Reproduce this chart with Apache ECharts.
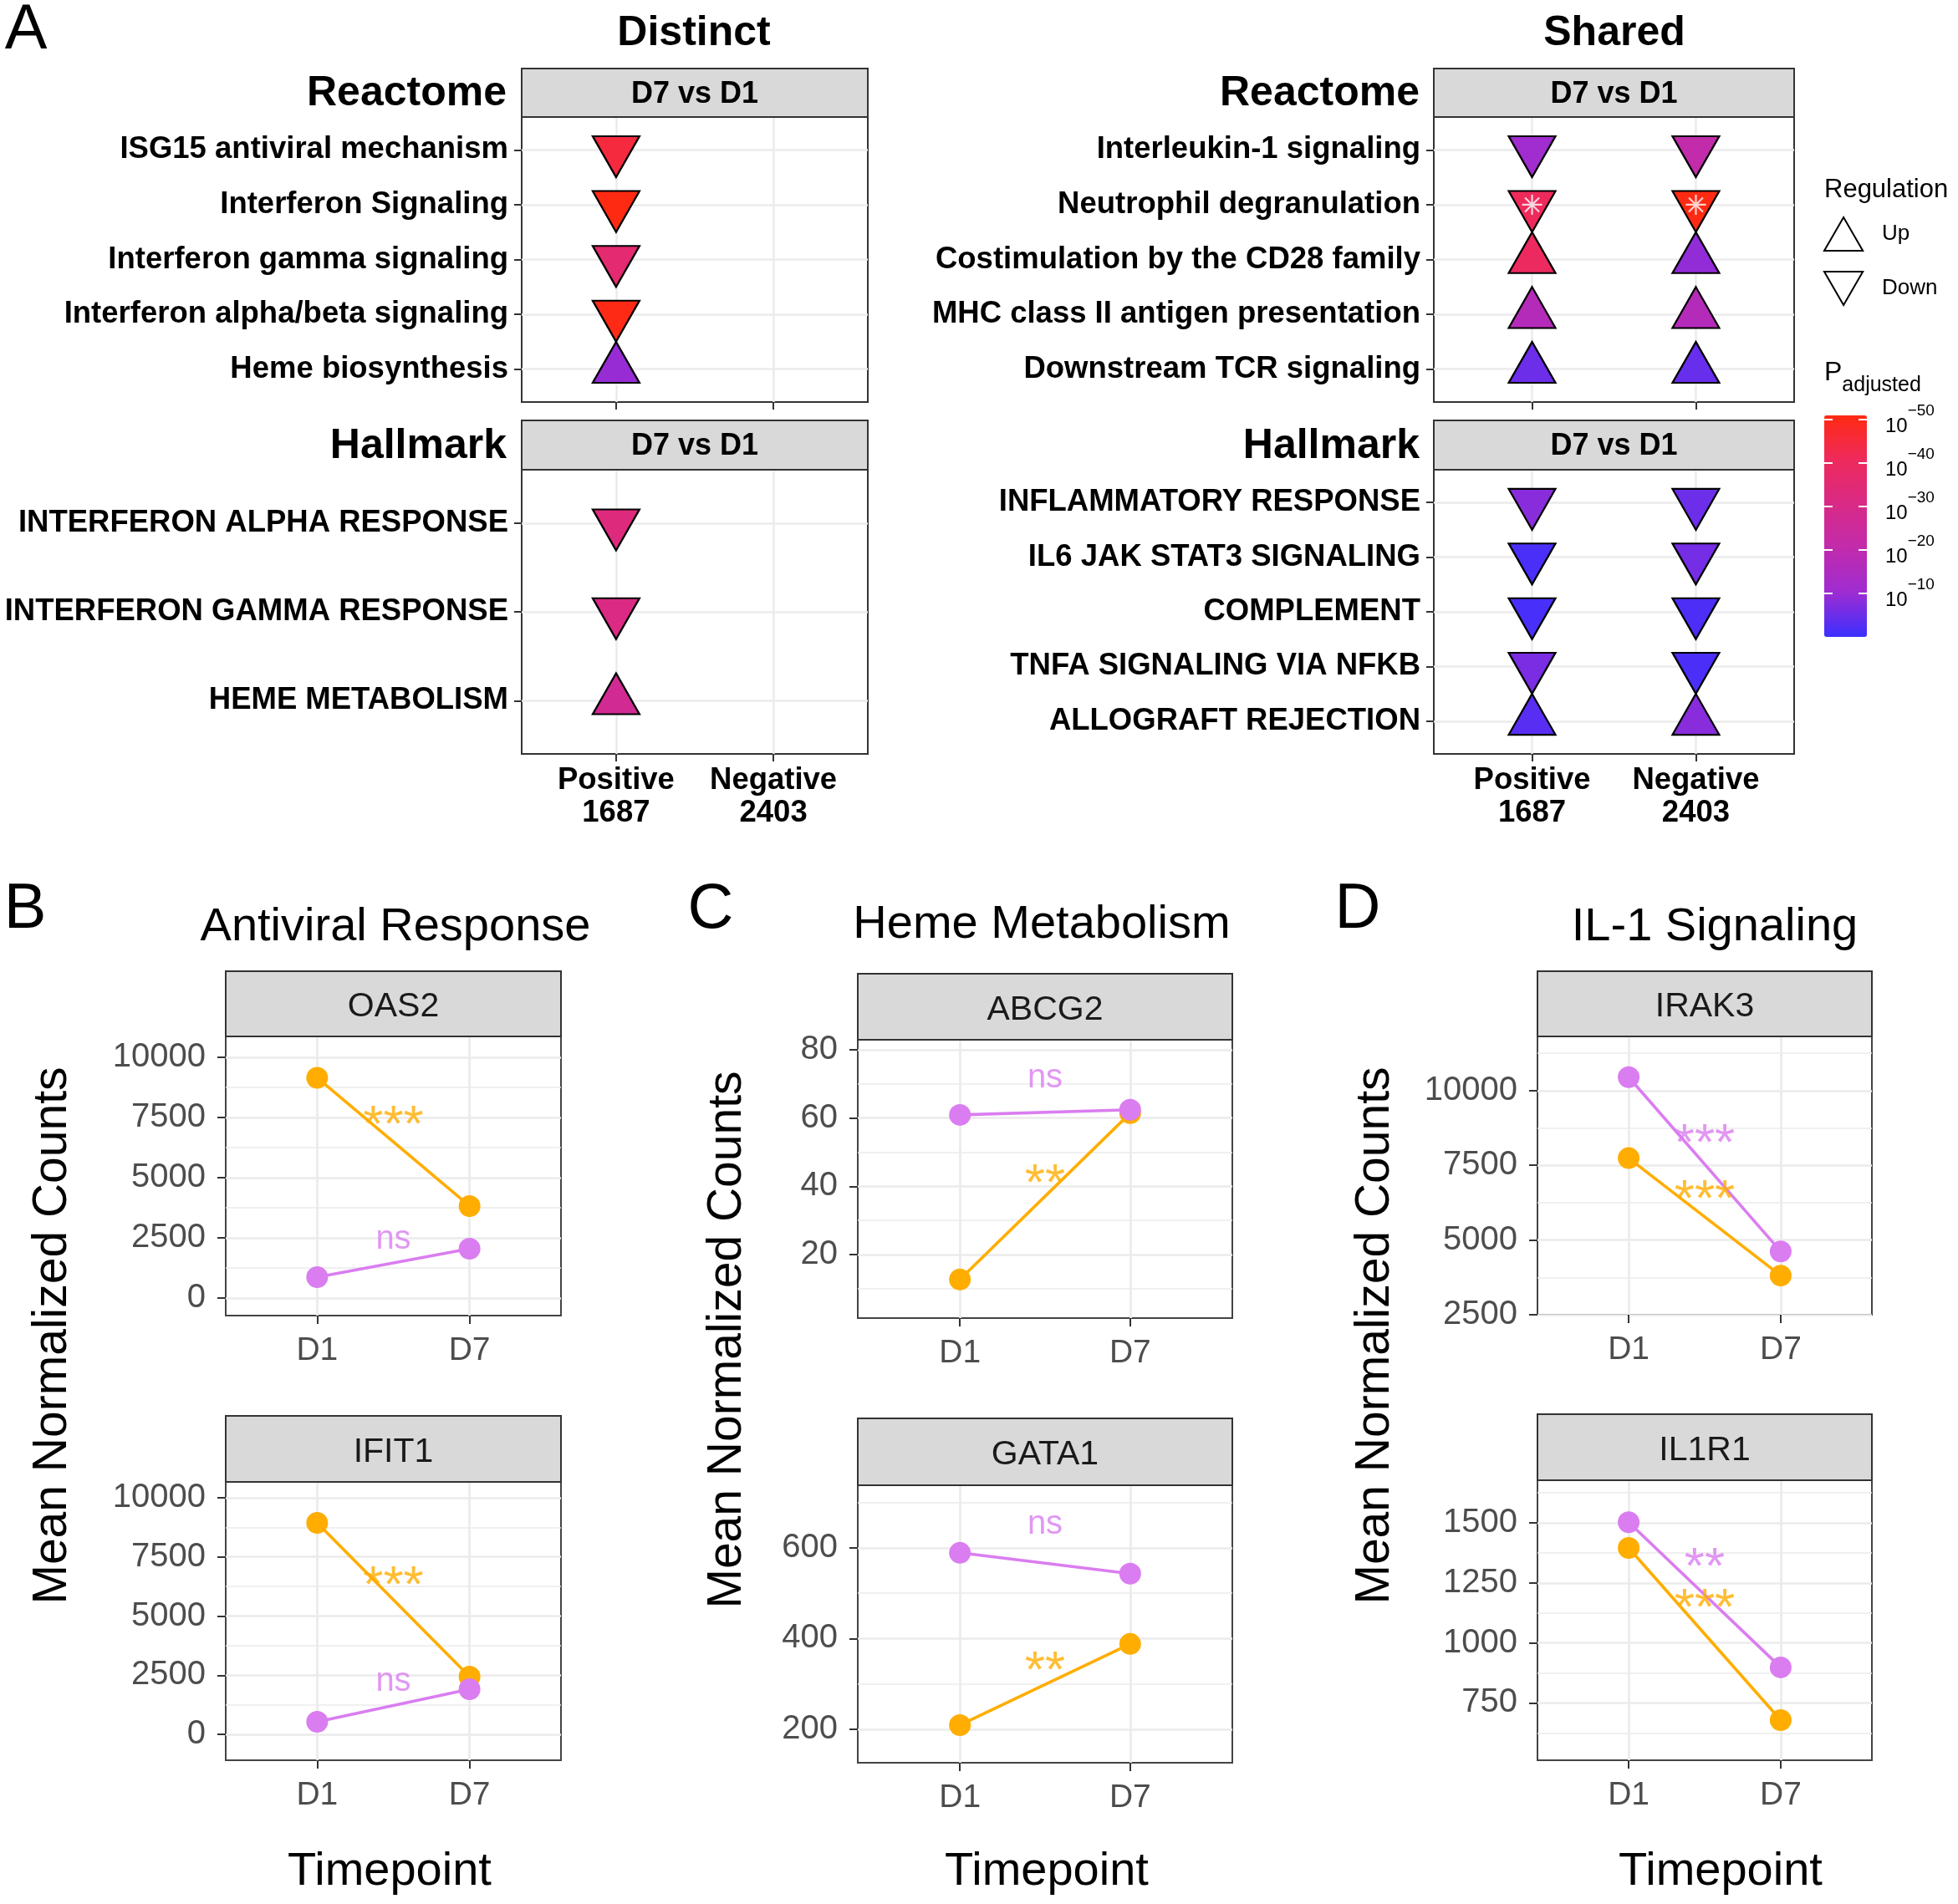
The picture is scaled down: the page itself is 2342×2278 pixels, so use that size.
<!DOCTYPE html>
<html><head><meta charset="utf-8">
<script src="https://cdn.jsdelivr.net/npm/echarts@6/dist/echarts.min.js"></script>
<style>html,body{margin:0;padding:0;background:#fff}#c{width:2342px;height:2278px}</style>
</head><body><div id="c"></div>
<script>
// ================= DATA =================
// Panel A: enrichment (regulation + -log10 adjusted P)
const contrasts = ['Positive\n1687', 'Negative\n2403'];
const reactomeDistinctPathways = ['ISG15 antiviral mechanism', 'Interferon Signaling', 'Interferon gamma signaling', 'Interferon alpha/beta signaling', 'Heme biosynthesis'];
const hallmarkDistinctPathways = ['INTERFERON ALPHA RESPONSE', 'INTERFERON GAMMA RESPONSE', 'HEME METABOLISM'];
const reactomeSharedPathways = ['Interleukin-1 signaling', 'Neutrophil degranulation', 'Costimulation by the CD28 family', 'MHC class II antigen presentation', 'Downstream TCR signaling'];
const hallmarkSharedPathways = ['INFLAMMATORY RESPONSE', 'IL6 JAK STAT3 SIGNALING', 'COMPLEMENT', 'TNFA SIGNALING VIA NFKB', 'ALLOGRAFT REJECTION'];
// [pathway, contrast index, regulation, -log10(P adjusted)]
const reactomeDistinctHits = [
  ['ISG15 antiviral mechanism', 0, 'Down', 45],
  ['Interferon Signaling', 0, 'Down', 51],
  ['Interferon gamma signaling', 0, 'Down', 36],
  ['Interferon alpha/beta signaling', 0, 'Down', 50.5],
  ['Heme biosynthesis', 0, 'Up', 9.5]
];
const hallmarkDistinctHits = [
  ['INTERFERON ALPHA RESPONSE', 0, 'Down', 33],
  ['INTERFERON GAMMA RESPONSE', 0, 'Down', 31],
  ['HEME METABOLISM', 0, 'Up', 27]
];
const reactomeSharedHits = [
  ['Interleukin-1 signaling', 0, 'Down', 11], ['Interleukin-1 signaling', 1, 'Down', 21],
  ['Neutrophil degranulation', 0, 'Down', 41], ['Neutrophil degranulation', 1, 'Down', 51],
  ['Costimulation by the CD28 family', 0, 'Up', 40], ['Costimulation by the CD28 family', 1, 'Up', 9],
  ['MHC class II antigen presentation', 0, 'Up', 17], ['MHC class II antigen presentation', 1, 'Up', 17],
  ['Downstream TCR signaling', 0, 'Up', 5], ['Downstream TCR signaling', 1, 'Up', 4.5]
];
const reactomeSharedFlagged = [['Neutrophil degranulation', 0], ['Neutrophil degranulation', 1]];
const hallmarkSharedHits = [
  ['INFLAMMATORY RESPONSE', 0, 'Down', 8], ['INFLAMMATORY RESPONSE', 1, 'Down', 5],
  ['IL6 JAK STAT3 SIGNALING', 0, 'Down', 1.5], ['IL6 JAK STAT3 SIGNALING', 1, 'Down', 6],
  ['COMPLEMENT', 0, 'Down', 1.3], ['COMPLEMENT', 1, 'Down', 1.8],
  ['TNFA SIGNALING VIA NFKB', 0, 'Down', 6.5], ['TNFA SIGNALING VIA NFKB', 1, 'Down', 1.6],
  ['ALLOGRAFT REJECTION', 0, 'Up', 3], ['ALLOGRAFT REJECTION', 1, 'Up', 8]
];
const padjRange = [0, 51];
const padjTicks = [10, 20, 30, 40, 50];
const padjColors = ['#3B2FFF', '#9E2CD2', '#C12BAC', '#D92A86', '#EE2A5C', '#FF2A12'];

// Panels B-D: mean normalized counts
const timepoints = ['D1', 'D7'];
const oas2Orange = [9150, 3820], oas2Violet = [870, 2050];
const ifit1Orange = [8940, 2440], ifit1Violet = [530, 1910];
const abcg2Orange = [12.7, 61.4], abcg2Violet = [60.9, 62.4];
const gata1Orange = [209, 388], gata1Violet = [589, 543];
const irak3Orange = [7740, 3810], irak3Violet = [10450, 4620];
const il1r1Orange = [1396, 678], il1r1Violet = [1503, 898];
// significance notes: [text, group, y]
const oas2Notes = [['***', 'orange', 7604], ['ns', 'violet', 2326]];
const ifit1Notes = [['***', 'orange', 6714], ['ns', 'violet', 2120]];
const abcg2Notes = [['ns', 'violet', 70.9], ['**', 'orange', 43.8]];
const gata1Notes = [['ns', 'violet', 646], ['**', 'orange', 351]];
const irak3Notes = [['***', 'violet', 8578], ['***', 'orange', 6711]];
const il1r1Notes = [['**', 'violet', 1357], ['***', 'orange', 1187]];
// y scales
const oas2Range = [-729, 10868], oas2Ticks = [0, 2500, 5000, 7500, 10000], oas2Minor = [1250, 3750, 6250, 8750];
const ifit1Range = [-1095, 10671], ifit1Ticks = [0, 2500, 5000, 7500, 10000], ifit1Minor = [1250, 3750, 6250, 8750];
const abcg2Range = [1.4, 82.9], abcg2Ticks = [20, 40, 60, 80], abcg2Minor = [10, 30, 50, 70];
const gata1Range = [126, 738], gata1Ticks = [200, 400, 600], gata1Minor = [300, 500, 700];
const irak3Range = [2500, 11812], irak3Ticks = [2500, 5000, 7500, 10000], irak3Minor = [3750, 6250, 8750, 11250];
const il1r1Range = [511, 1678], il1r1Ticks = [750, 1000, 1250, 1500], il1r1Minor = [625, 875, 1125, 1375, 1625];

// ================= STYLE / LAYOUT =================
const FONT = "'Liberation Sans', Arial, Helvetica, sans-serif";
const COLORS = { orange: '#FFAD00', violet: '#DA7DF0' };
const gridsA = [
  { left: 624, top: 140, width: 414, height: 341 },
  { left: 624, top: 562, width: 414, height: 340 },
  { left: 1715, top: 140, width: 431, height: 341 },
  { left: 1715, top: 562, width: 431, height: 340 }
];
const gridsGene = [
  { left: 270, top: 1240, width: 401, height: 334, stripTop: 1162 },
  { left: 270, top: 1773, width: 401, height: 333, stripTop: 1694 },
  { left: 1026, top: 1244, width: 448, height: 333, stripTop: 1165 },
  { left: 1026, top: 1777, width: 448, height: 332, stripTop: 1697 },
  { left: 1839, top: 1240, width: 400, height: 333, stripTop: 1162 },
  { left: 1839, top: 1771, width: 400, height: 335, stripTop: 1692 }
];
const gridBar = { left: 2182, top: 497, width: 51, height: 265 };

const genePanels = [
  { gene: 'OAS2', orange: oas2Orange, violet: oas2Violet, range: oas2Range, major: oas2Ticks, minor: oas2Minor, notes: oas2Notes },
  { gene: 'IFIT1', orange: ifit1Orange, violet: ifit1Violet, range: ifit1Range, major: ifit1Ticks, minor: ifit1Minor, notes: ifit1Notes },
  { gene: 'ABCG2', orange: abcg2Orange, violet: abcg2Violet, range: abcg2Range, major: abcg2Ticks, minor: abcg2Minor, notes: abcg2Notes },
  { gene: 'GATA1', orange: gata1Orange, violet: gata1Violet, range: gata1Range, major: gata1Ticks, minor: gata1Minor, notes: gata1Notes },
  { gene: 'IRAK3', orange: irak3Orange, violet: irak3Violet, range: irak3Range, major: irak3Ticks, minor: irak3Minor, notes: irak3Notes },
  { gene: 'IL1R1', orange: il1r1Orange, violet: il1r1Violet, range: il1r1Range, major: il1r1Ticks, minor: il1r1Minor, notes: il1r1Notes }
];
const panelA = [
  { pathways: reactomeDistinctPathways, hits: reactomeDistinctHits, showX: false },
  { pathways: hallmarkDistinctPathways, hits: hallmarkDistinctHits, showX: true },
  { pathways: reactomeSharedPathways, hits: reactomeSharedHits, showX: false },
  { pathways: hallmarkSharedPathways, hits: hallmarkSharedHits, showX: true }
];

const TRI_W = 56, TRI_H = 49;
const option = {
  animation: false, backgroundColor: '#fff',
  grid: [], xAxis: [], yAxis: [], series: [],
  graphic: { elements: [] }
};
const G = option.graphic.elements;
const gridStyle = { show: true, borderColor: '#333', borderWidth: 2, backgroundColor: 'transparent', containLabel: false };
const noLine = { show: false, onZero: false };

// ---------- Panel A grids ----------
panelA.forEach((p, gi) => {
  option.grid.push(Object.assign({}, gridsA[gi], gridStyle));
  const idx = p.pathways.map((_, i) => i);
  option.xAxis.push({
    type: 'value', gridIndex: gi, min: -0.6, max: 1.6, position: 'bottom',
    axisLine: noLine,
    axisTick: { show: true, length: 9, lineStyle: { color: '#333', width: 2 }, customValues: [0, 1] },
    axisLabel: { show: p.showX, customValues: [0, 1], formatter: v => contrasts[Math.round(v)],
      color: '#000', fontWeight: 'bold', fontSize: 36.5, fontFamily: FONT, lineHeight: 39, margin: 12 },
    splitLine: { show: true, lineStyle: { color: '#EBEBEB', width: 2.5 } }
  });
  option.yAxis.push({
    type: 'value', gridIndex: gi, inverse: true, min: -0.6, max: p.pathways.length - 0.4, position: 'left',
    axisLine: noLine,
    axisTick: { show: true, length: 9, lineStyle: { color: '#333', width: 2 }, customValues: idx },
    axisLabel: { customValues: idx, formatter: v => p.pathways[Math.round(v)], padding: [9, 0, 0, 0],
      color: '#000', fontWeight: 'bold', fontSize: 36.5, fontFamily: FONT, margin: 16 },
    splitLine: { show: true, lineStyle: { color: '#EBEBEB', width: 2.5 } }
  });
  ['Up', 'Down'].forEach(reg => {
    option.series.push({
      type: 'scatter', name: reg, xAxisIndex: gi, yAxisIndex: gi,
      symbol: 'triangle', symbolSize: [TRI_W, TRI_H],
      symbolRotate: reg === 'Down' ? 180 : 0,
      symbolOffset: [0, reg === 'Down' ? TRI_H / 6 : -TRI_H / 6],
      itemStyle: { borderColor: '#000', borderWidth: 2.2, opacity: 1 },
      emphasis: { disabled: true }, z: 3,
      data: p.hits.filter(h => h[2] === reg).map(h => [h[1], p.pathways.indexOf(h[0]), h[3]])
    });
  });
});
// white asterisk marks on Shared Reactome
option.series.push({
  type: 'scatter', name: 'flag', xAxisIndex: 2, yAxisIndex: 2,
  symbol: 'path://M0,-10L0,10M-10,0L10,0M-7.07,-7.07L7.07,7.07M-7.07,7.07L7.07,-7.07',
  symbolSize: 24, itemStyle: { color: 'none', borderColor: '#fff', borderWidth: 2.2 },
  emphasis: { disabled: true }, z: 5,
  data: reactomeSharedFlagged.map(f => [f[1], reactomeSharedPathways.indexOf(f[0])])
});

// ---------- Gene panels ----------
const minorAxes = [];
genePanels.forEach((p, k) => {
  const gi = 4 + k;
  option.grid.push(Object.assign({ left: gridsGene[k].left, top: gridsGene[k].top, width: gridsGene[k].width, height: gridsGene[k].height }, gridStyle, { borderColor: '#444' }));
  option.xAxis.push({
    type: 'value', gridIndex: gi, min: -0.6, max: 1.6, position: 'bottom',
    axisLine: noLine,
    axisTick: { show: true, length: 10, lineStyle: { color: '#333', width: 2 }, customValues: [0, 1] },
    axisLabel: { customValues: [0, 1], formatter: v => timepoints[Math.round(v)],
      color: '#4D4D4D', fontSize: 39, fontFamily: FONT, lineHeight: 40, margin: 22 },
    splitLine: { show: true, lineStyle: { color: '#EBEBEB', width: 2.7 } }
  });
  option.yAxis.push({
    type: 'value', gridIndex: gi, min: p.range[0], max: p.range[1], position: 'left',
    axisLine: noLine,
    axisTick: { show: true, length: 10, lineStyle: { color: '#333', width: 2 }, customValues: p.major },
    axisLabel: { customValues: p.major, formatter: v => String(v), padding: [6, 0, 0, 0],
      color: '#4D4D4D', fontSize: 40, fontFamily: FONT, margin: 24 },
    splitLine: { show: true, lineStyle: { color: '#EBEBEB', width: 2.7 } }
  });
  minorAxes.push({
    type: 'value', gridIndex: gi, min: p.range[0], max: p.range[1], position: 'right',
    axisLine: noLine,
    axisTick: { show: false, customValues: p.minor },
    axisLabel: { show: false, customValues: p.minor },
    splitLine: { show: true, lineStyle: { color: '#EBEBEB', width: 1.6 } }
  });
  ['orange', 'violet'].forEach(grp => {
    option.series.push({
      type: 'line', name: p.gene + ' ' + grp, xAxisIndex: gi, yAxisIndex: gi,
      data: p[grp].map((v, i) => [i, v]),
      symbol: 'circle', symbolSize: 26, showSymbol: true,
      lineStyle: { color: COLORS[grp], width: 3.6 }, itemStyle: { color: COLORS[grp] },
      emphasis: { disabled: true }, z: 3
    });
  });
  option.series.push({
    type: 'scatter', name: p.gene + ' notes', xAxisIndex: gi, yAxisIndex: gi,
    symbolSize: 1, itemStyle: { color: 'rgba(0,0,0,0)' }, emphasis: { disabled: true }, z: 4,
    data: p.notes.map(n => ({
      value: [0.5, n[2]],
      label: { show: true, position: 'inside', formatter: n[0], color: COLORS[n[1]], fontFamily: FONT,
        fontSize: n[0] === 'ns' ? 40 : 62, offset: [0, n[0] === 'ns' ? -3 : 14] }
    }))
  });
});
minorAxes.forEach(a => option.yAxis.push(a));

// ---------- colour bar axes ----------
option.grid.push(Object.assign({}, gridBar, { show: false }));
option.xAxis.push({ type: 'value', gridIndex: 10, show: false, min: 0, max: 1 });
option.yAxis.push({
  type: 'value', gridIndex: 10, position: 'left', min: padjRange[0], max: padjRange[1], z: 10,
  axisLine: noLine, axisLabel: { show: false }, splitLine: { show: false },
  axisTick: { show: true, inside: true, length: 10, lineStyle: { color: '#fff', width: 2 }, customValues: padjTicks }
});
option.yAxis.push({
  type: 'value', gridIndex: 10, position: 'right', min: padjRange[0], max: padjRange[1], z: 10,
  axisLine: noLine, splitLine: { show: false },
  axisTick: { show: true, inside: true, length: 10, lineStyle: { color: '#fff', width: 2 }, customValues: padjTicks },
  axisLabel: { show: true, customValues: padjTicks, margin: 22, align: 'left',
    formatter: v => '{b|10}{s|\u2212' + v + '}',
    rich: {
      b: { fontSize: 24, fontFamily: FONT, color: '#000', lineHeight: 40, verticalAlign: 'bottom' },
      s: { fontSize: 19, fontFamily: FONT, color: '#000', lineHeight: 19, verticalAlign: 'top' }
    } }
});

option.visualMap = {
  type: 'continuous', min: padjRange[0], max: padjRange[1], dimension: 2,
  seriesIndex: [0, 1, 2, 3, 4, 5, 6, 7],
  left: gridBar.left, top: gridBar.top, itemWidth: gridBar.width, itemHeight: gridBar.height,
  padding: 0, calculable: false, hoverLink: false, realtime: false, z: 4,
  inRange: { color: padjColors }
};
option.legend = {
  orient: 'vertical', left: 2181, top: 259, itemWidth: 82, itemHeight: 40, itemGap: 23,
  padding: 0, selectedMode: false,
  data: [
    { name: 'Up', icon: 'path://M1,0L2,1.732L0,1.732Z' },
    { name: 'Down', icon: 'path://M0,0L2,0L1,1.732Z' }
  ],
  itemStyle: { color: '#fff', borderColor: '#000', borderWidth: 2 },
  textStyle: { fontSize: 26, color: '#000', fontFamily: FONT }
};

// ---------- text / strips ----------
function text(x, y, t, size, extra, rot) {
  const el = { type: 'text', x: x, y: y, z: 50, silent: true,
    style: Object.assign({ text: t, fontSize: size, fontFamily: FONT, fill: '#000', align: 'center', verticalAlign: 'middle' }, extra || {}) };
  if (rot) el.rotation = rot;
  G.push(el);
}
function strip(x, y, w, h, t, size, bold, color, dy) {
  G.push({ type: 'rect', z: 40, silent: true, shape: { x: x, y: y, width: w, height: h },
    style: { fill: '#D9D9D9', stroke: '#333', lineWidth: 2 } });
  text(x + w / 2, y + h / 2 + (dy || 0), t, size, { fontWeight: bold ? 'bold' : 'normal', fill: color });
}
text(31, 37, 'A', 76);
text(30, 1089, 'B', 76);
text(850, 1089, 'C', 76);
text(1624, 1089, 'D', 76);
text(830, 40, 'Distinct', 50, { fontWeight: 'bold' });
text(1931, 40, 'Shared', 50, { fontWeight: 'bold' });
text(606, 112, 'Reactome', 50, { fontWeight: 'bold', align: 'right' });
text(606, 534, 'Hallmark', 50, { fontWeight: 'bold', align: 'right' });
text(1698, 112, 'Reactome', 50, { fontWeight: 'bold', align: 'right' });
text(1698, 534, 'Hallmark', 50, { fontWeight: 'bold', align: 'right' });
strip(624, 82, 414, 58, 'D7 vs D1', 36, true, '#000', 2);
strip(624, 503, 414, 59, 'D7 vs D1', 36, true, '#000', 2);
strip(1715, 82, 431, 58, 'D7 vs D1', 36, true, '#000', 2);
strip(1715, 503, 431, 59, 'D7 vs D1', 36, true, '#000', 2);
genePanels.forEach((p, k) => {
  const g = gridsGene[k];
  strip(g.left, g.stripTop, g.width, g.top - g.stripTop, p.gene, 41, false, '#1A1A1A', 4);
});
text(473, 1110, 'Antiviral Response', 56);
text(1246, 1107, 'Heme Metabolism', 56);
text(2051, 1110, 'IL-1 Signaling', 56);
text(466, 2240, 'Timepoint', 56);
text(1252, 2240, 'Timepoint', 56);
text(2058, 2240, 'Timepoint', 56);
text(63, 1598, 'Mean Normalized Counts', 57, null, Math.PI / 2);
text(870, 1603, 'Mean Normalized Counts', 57, null, Math.PI / 2);
text(1645, 1598, 'Mean Normalized Counts', 57, null, Math.PI / 2);
text(2182, 227, 'Regulation', 31, { align: 'left' });
text(2182, 452, '{p|P}{s|adjusted}', 31, { align: 'left',
  rich: { p: { fontSize: 32, fontFamily: FONT, fill: '#000', lineHeight: 44, verticalAlign: 'top' },
          s: { fontSize: 25, fontFamily: FONT, fill: '#000', lineHeight: 25, verticalAlign: 'bottom' } } });

const chart = echarts.init(document.getElementById('c'));
chart.setOption(option);
</script></body></html>
